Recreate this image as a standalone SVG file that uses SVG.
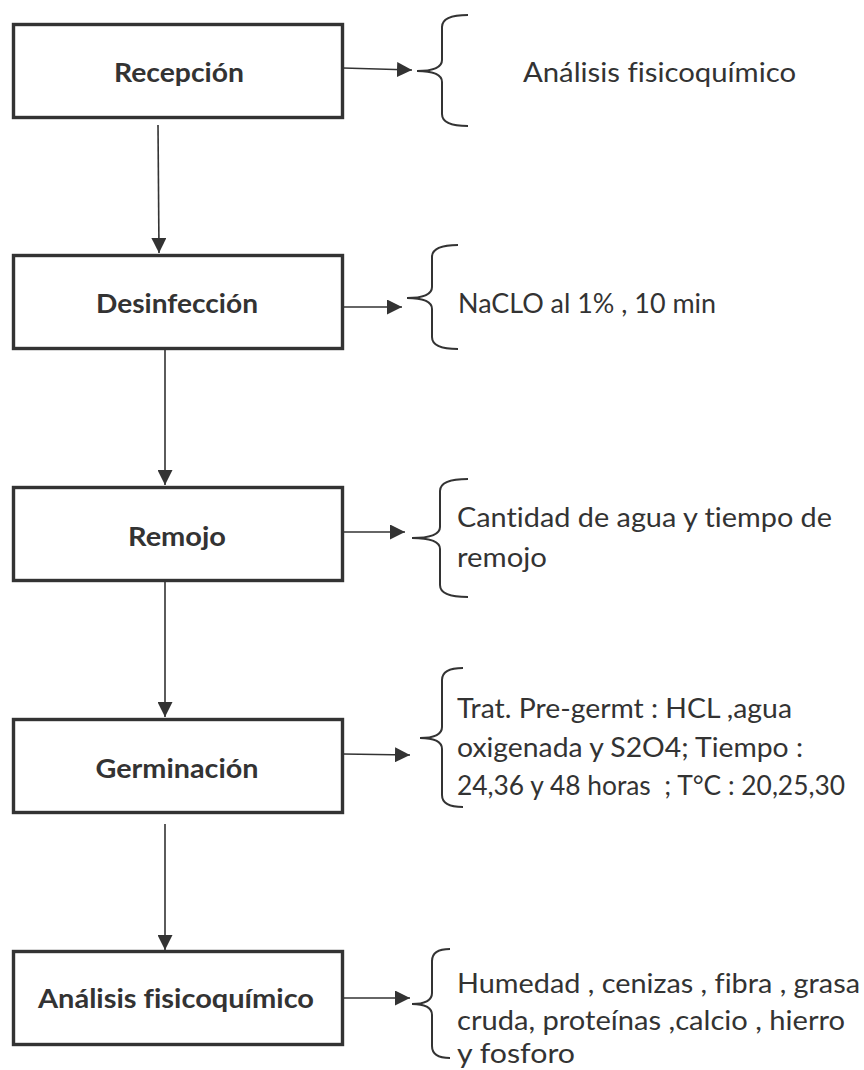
<svg xmlns="http://www.w3.org/2000/svg" width="864" height="1070" viewBox="0 0 864 1070">
<style>
.box{fill:#fff;stroke:#333;stroke-width:3.4}
.lbl{font-family:Lato,"Liberation Sans",sans-serif;font-weight:bold;font-size:26px;fill:#333;text-anchor:middle;font-variant-ligatures:none}
.txt{font-family:Lato,"Liberation Sans",sans-serif;font-size:27px;fill:#333;font-variant-ligatures:none}
.ln{stroke:#333;stroke-width:1.6;fill:none}
.br{stroke:#333;stroke-width:2;fill:none}
</style>
<defs>
<marker id="ah" viewBox="0 0 14 14" refX="14" refY="7" markerWidth="15" markerHeight="15" markerUnits="userSpaceOnUse" orient="auto">
<path d="M0,0 L14,7 L0,14 Z" fill="#333"/>
</marker>
</defs>
<rect width="864" height="1070" fill="#fff"/>
<g id="connectors">
<line class="ln" x1="158" y1="125" x2="159" y2="253" marker-end="url(#ah)"/>
<line class="ln" x1="165" y1="350" x2="165" y2="485" marker-end="url(#ah)"/>
<line class="ln" x1="165" y1="582" x2="165" y2="717" marker-end="url(#ah)"/>
<line class="ln" x1="165" y1="824" x2="165" y2="950" marker-end="url(#ah)"/>
<line class="ln" x1="343" y1="68" x2="412" y2="70" marker-end="url(#ah)"/>
<line class="ln" x1="343" y1="307" x2="402" y2="307" marker-end="url(#ah)"/>
<line class="ln" x1="343" y1="532" x2="405" y2="532" marker-end="url(#ah)"/>
<line class="ln" x1="343" y1="754" x2="410" y2="755" marker-end="url(#ah)"/>
<line class="ln" x1="343" y1="998" x2="410" y2="998" marker-end="url(#ah)"/>
</g>
<g id="n1">
<rect class="box" x="13.5" y="24.5" width="329" height="93"/>
<text class="lbl" x="179" y="82" textLength="130" lengthAdjust="spacingAndGlyphs">Recepción</text>
</g>
<g id="n2">
<rect class="box" x="13.5" y="255.5" width="329" height="93"/>
<text class="lbl" x="177" y="313" textLength="162" lengthAdjust="spacingAndGlyphs">Desinfección</text>
</g>
<g id="n3">
<rect class="box" x="13.5" y="487.5" width="329" height="93"/>
<text class="lbl" x="177" y="546" textLength="98" lengthAdjust="spacingAndGlyphs">Remojo</text>
</g>
<g id="n4">
<rect class="box" x="13.5" y="719.5" width="329" height="93"/>
<text class="lbl" x="177" y="778" textLength="163" lengthAdjust="spacingAndGlyphs">Germinación</text>
</g>
<g id="n5">
<rect class="box" x="13.5" y="951.5" width="329" height="93"/>
<text class="lbl" x="176" y="1008" textLength="276" lengthAdjust="spacingAndGlyphs">Análisis fisicoquímico</text>
</g>
<g id="b1">
<path class="br" d="M468,15 Q442,15 442,27 L442,60 Q442,71 417,71 Q442,71 442,82 L442,114 Q442,126 468,126"/>
<text class="txt" x="523" y="82" textLength="273" lengthAdjust="spacingAndGlyphs">Análisis fisicoquímico</text>
</g>
<g id="b2">
<path class="br" d="M458,245 Q432,245 432,257 L432,287 Q432,298 407,298 Q432,298 432,309 L432,337 Q432,349 458,349"/>
<text class="txt" x="458" y="313" textLength="258" lengthAdjust="spacingAndGlyphs">NaCLO al 1% , 10 min</text>
</g>
<g id="b3">
<path class="br" d="M468,479 Q440,479 440,491 L440,527 Q440,538 412,538 Q440,538 440,549 L440,585 Q440,597 468,597"/>
<text class="txt" x="457" y="527" textLength="375" lengthAdjust="spacingAndGlyphs">Cantidad de agua y tiempo de</text>
<text class="txt" x="457" y="567" textLength="90" lengthAdjust="spacingAndGlyphs">remojo</text>
</g>
<g id="b4">
<path class="br" d="M463,668 Q442,668 442,680 L442,727 Q442,738 420,738 Q442,738 442,749 L442,795 Q442,807 463,807"/>
<text class="txt" x="457" y="718" textLength="335" lengthAdjust="spacingAndGlyphs">Trat. Pre-germt : HCL ,agua</text>
<text class="txt" x="457" y="757" textLength="346" lengthAdjust="spacingAndGlyphs">oxigenada y S2O4; Tiempo :</text>
<text class="txt" x="457" y="795" textLength="388" lengthAdjust="spacingAndGlyphs" xml:space="preserve">24,36 y 48 horas  ; T°C : 20,25,30</text>
</g>
<g id="b5">
<path class="br" d="M450,949 Q432,949 432,961 L432,993 Q432,1004 412,1004 Q432,1004 432,1015 L432,1046 Q432,1058 450,1058"/>
<text class="txt" x="457" y="993" textLength="403" lengthAdjust="spacingAndGlyphs">Humedad , cenizas , fibra , grasa</text>
<text class="txt" x="457" y="1030" textLength="388" lengthAdjust="spacingAndGlyphs">cruda, proteínas ,calcio , hierro</text>
<text class="txt" x="457" y="1063" textLength="118" lengthAdjust="spacingAndGlyphs">y fosforo</text>
</g>
</svg>
